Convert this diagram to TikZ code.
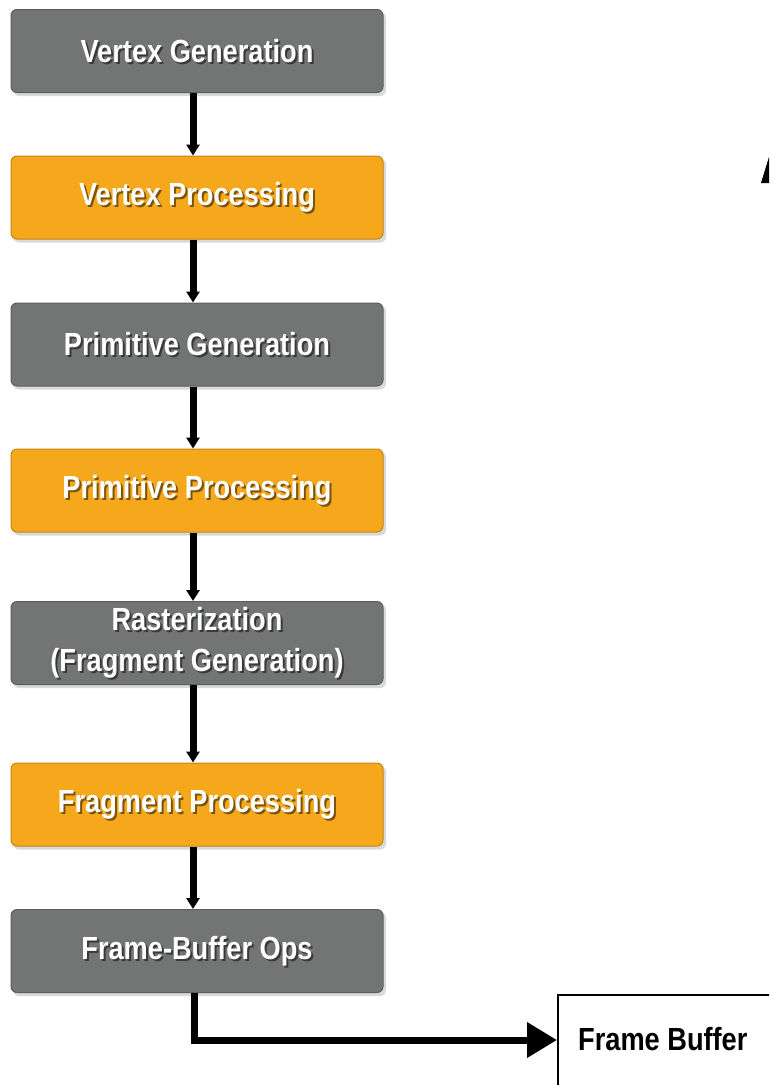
\documentclass[tikz,border=0pt]{standalone}
\usepackage{fontspec}
\newfontfamily\boxfont[FakeStretch=0.85]{Liberation Sans}
\usetikzlibrary{arrows.meta}
\definecolor{stagegray}{RGB}{115,116,116}
\definecolor{stageorange}{RGB}{246,168,28}
\newcommand\stagenode[4]{%
  \fill[black,opacity=0.15,rounded corners=6pt] (13,#2-39) rectangle (386,#2+45);
  \node[stagebox=#3] (#1) at (197,#2) {};
  \node[stageshadow] (#1s) at ([shift={(2pt,-2pt)}]#1.center) {#4};
  \node[stagetext] (#1t) at (#1.center) {#4};
}
\begin{document}
\begin{tikzpicture}[x=1pt,y=-1pt,
  stagebox/.style={rounded corners=6pt, minimum width=372pt, minimum height=83pt,
    inner sep=0pt, draw=#1!80!black, fill=#1, line width=1pt},
  stagetext/.style={text=white, align=center, inner sep=0pt,
    font=\boxfont\bfseries\fontsize{32}{41}\selectfont},
  stageshadow/.style={stagetext, text=black, text opacity=0.5},
  flowarrow/.style={line width=7pt, -{Triangle[width=13pt,length=11pt]}},
  bigarrow/.style={line width=7pt, line join=miter, -{Triangle[width=34pt,length=30pt]}},
  fbbox/.style={draw=black, line width=2pt, fill=white, minimum width=260pt,
    minimum height=150pt, inner sep=0pt},
  fbtext/.style={text=black, inner sep=0pt, font=\boxfont\bfseries\fontsize{32}{40}\selectfont}]
\useasboundingbox (0,0) rectangle (769,1085);
\clip (0,0) rectangle (769,1085);
\fill[white] (0,0) rectangle (769,1085);

\stagenode{n1}{51}{stagegray}{Vertex Generation}
\stagenode{n2}{197.5}{stageorange}{Vertex Processing}
\stagenode{n3}{344.5}{stagegray}{Primitive Generation}
\stagenode{n4}{490.5}{stageorange}{Primitive Processing}
\stagenode{n5}{643}{stagegray}{Rasterization\\(Fragment Generation)}
\stagenode{n6}{804.5}{stageorange}{Fragment Processing}
\stagenode{n7}{951}{stagegray}{Frame-Buffer Ops}

\foreach \a/\b in {n1/n2,n2/n3,n3/n4,n4/n5,n5/n6,n6/n7}
  \draw[flowarrow] ([xshift=-4pt]\a.south) -- ([xshift=-4pt]\b.north);

\node[fbbox, anchor=north west] (fb) at (557,994) {};
\coordinate (fbin) at (557,1040);
\node[fbtext, anchor=west] (fbt) at (578,1039) {Frame Buffer};
\draw[bigarrow] ([xshift=-3pt]n7.south) |- (fbin);

% partial arrowhead at the right edge
\fill[black] (761,183) -- (769,157) -- (777,183) -- cycle;
\end{tikzpicture}
\end{document}
